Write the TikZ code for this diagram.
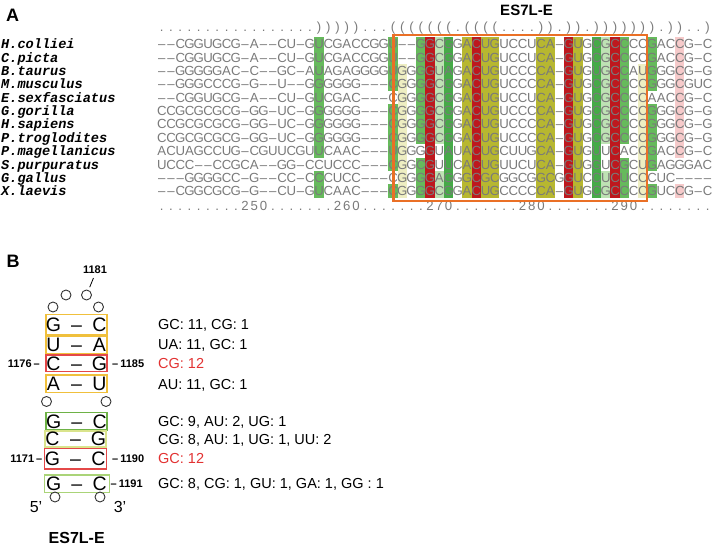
\documentclass[tikz,border=0pt]{standalone}
\usepackage{fontspec}
\setmainfont{Liberation Sans}
\newfontfamily\courier{Liberation Mono}
\newlength\cw \setlength\cw{9.25pt}
\makeatletter
\def\seqstop{\seqstop}
\def\seqline#1{\seq@loop#1\seqstop}
\def\seq@loop#1{\ifx\seqstop#1\else\ifx-#1\makebox[\cw][c]{–}\else\makebox[\cw][c]{#1}\fi\expandafter\seq@loop\fi}
\makeatother
\newcommand\bpair[2]{\makebox[61pt]{\makebox[0pt]{#1}\hspace{23pt}\makebox[0pt]{–}\hspace{23pt}\makebox[0pt]{#2}}}
\definecolor{seqgray}{RGB}{122,122,122}
\definecolor{hred}{RGB}{190,24,30}
\definecolor{holive}{RGB}{183,183,48}
\definecolor{hgreen}{RGB}{70,170,72}
\definecolor{hgreenm}{RGB}{102,186,92}
\definecolor{hpalegreen}{RGB}{190,226,180}
\definecolor{hpaleyellow}{RGB}{238,238,194}
\definecolor{hpink}{RGB}{246,202,202}
\definecolor{boxorange}{RGB}{234,112,38}
\definecolor{bochre}{RGB}{240,192,60}
\definecolor{bred}{RGB}{228,72,72}
\definecolor{bgreen}{RGB}{110,178,70}
\definecolor{bpale}{RGB}{218,228,140}
\definecolor{blightgreen}{RGB}{170,212,120}
\definecolor{numred}{RGB}{226,50,50}
\tikzset{
  seq/.style={anchor=base west, inner sep=0, text=seqgray, font=\fontsize{13.2}{13.2}\selectfont},
  species/.style={anchor=base west, inner sep=0, font=\courier\bfseries\itshape\fontsize{13.6}{13.6}\selectfont},
  panellabel/.style={anchor=base west, inner sep=0, font=\bfseries\fontsize{18}{18}\selectfont},
  titlelab/.style={anchor=base, inner sep=0, font=\bfseries\fontsize{15}{15}\selectfont},
  pairbox/.style={draw, line width=1.5pt, minimum width=61pt, inner sep=0, font=\fontsize{19.5}{19.5}\selectfont},
  circ/.style={circle, draw=black!80, line width=0.9pt, minimum size=10pt, inner sep=0},
  numlab/.style={inner sep=0, font=\bfseries\fontsize{11}{11}\selectfont},
  stat/.style={anchor=base west, inner sep=0, font=\fontsize{14.5}{14.5}\selectfont},
  endlab/.style={anchor=base, inner sep=0, font=\fontsize{16}{16}\selectfont},
}
\begin{document}
\begin{tikzpicture}[x=1pt,y=-1pt]
\useasboundingbox (0,0) rectangle (712,545);
% ---------- Panel A: highlights ----------
\foreach \c/\clr/\rows in {
  18/hgreenm/{1,2,3,4,5,6,7,8,9,11,12},
  26/hgreenm/{1,2,3,4,6,7,8,9,10,12},
  54/hgreenm/{1,2,3,4,6,7,8,9,10,12},
  27/hpaleyellow/{3,4,5,6,7,8,9,10,11,12},
  53/hpaleyellow/{3,4,5,6,7,8,9,10,11,12},
  29/hgreenm/{1,2,3,4,5,6,7,8,10,11,12},
  51/hgreenm/{1,2,3,4,5,6,7,8,10,11,12},
  30/hred/{1,2,3,4,5,6,7,8,9,10,11,12},
  50/hred/{1,2,3,4,5,6,7,8,9,10,11,12},
  35/hred/{1,2,3,4,5,6,7,8,9,10,11,12},
  45/hred/{1,2,3,4,5,6,7,8,9,10,11,12},
  31/hpalegreen/{1,2,3,4,5,6,7,8,11,12},
  49/hpalegreen/{1,2,3,4,5,6,7,8,11,12},
  32/hgreen/{1,2,3,4,5,6,7,8,9,10,11,12},
  48/hgreen/{1,2,3,4,5,6,7,8,9,10,11,12},
  34/holive/{1,2,3,4,5,6,7,8,9,10,11,12},
  46/holive/{1,2,3,4,5,6,7,8,9,10,11,12},
  36/holive/{1,2,3,4,5,6,7,8,9,10,11,12},
  43/holive/{1,2,3,4,5,6,7,8,9,10,11,12},
  37/holive/{1,2,3,4,5,6,7,8,9,10,11,12},
  42/holive/{1,2,3,4,5,6,7,8,9,10,11,12},
  57/hpink/{1,2,3,4,5,6,7,8,9,12}}{
  \foreach \r in \rows {
    \fill[fill=\clr] ({157+(\c-1)*9.25},{44+(\r-1)*13.38-6.69}) rectangle ({157+\c*9.25},{44+(\r-1)*13.38+6.69});
  }
}
% ---------- Panel A: text ----------
\node[panellabel] (labA) at (6,21.5) {A};
\node[titlelab] (titleA) at (526.5,15.5) {ES7L-E};
\node[seq] (struct) at (157,31.5) {\seqline{.................)))))...(((((((.((((....)).)).))))))).))..)}};
\foreach \i/\name/\s in {
  1/H.colliei/--CGGUGCG-A--CU-GUCGACCGGU--GGCGGACUGUCCUCA-GUGCGCCCCGACCG-C,
  2/C.picta/--CGGUGCG-A--CU-GUCGACCGGU--GGCGGACUGUCCUCA-GUGCGCCCCGACCG-C,
  3/B.taurus/--GGGGGAC-C--GC-AUAGAGGGGUGGGGUAGACUGUCCCCA-GUGUGCCAUGGGCG-G,
  4/M.musculus/--GGGCCCG-G--U--GGGGGG---CGGGGCGGACUGUCCCCA-GUGCGCCCCGGGCGUC,
  5/E.sexfasciatus/--CGGUGCG-A--CU-GUCGAC---CGGGGCGGACUGUCCUCA-GUGCGCCCCAACCG-C,
  6/G.gorilla/CCGCGCGCG-GG-UC-GGGGGG---CGGGGCGGACUGUCCCCA-GUGCGCCCCGGGCG-G,
  7/H.sapiens/CCGCGCGCG-GG-UC-GGGGGG---CGGGGCGGACUGUCCCCA-GUGCGCCCCGGGCG-G,
  8/P.troglodites/CCGCGCGCG-GG-UC-GGGGGG---CGGGGCGGACUGUCCCCA-GUGCGCCCCGGGCG-G,
  9/P.magellanicus/ACUAGCCUG-CGUUCGUUCAAC---UGGGGUAUACUGCUUGCA-GUGUUCACCGACCG-C,
  10/S.purpuratus/UCCC--CCGCA--GG-CCUCCC---CGGCGUUCACUGUUCUCA-GUGGUCGCUGAGGGAC,
  11/G.gallus/---GGGGCC-G--CC-CCCUCC---CGGGGAGGGCGCGGCGGCGGUCCUCUCCCUC----,
  12/X.laevis/--CGGCGCG-G--CU-GUCAAC---CGGGGCGGACUGCCCCCA-GUGCGCCCCGUCCG-C}{
  \node[species] (sp\i) at (1,{48.7+(\i-1)*13.38}) {\name};
  \node[seq] (s\i) at (157,{48.7+(\i-1)*13.38}) {\expandafter\seqline\expandafter{\s}};
}
\node[seq] (ruler) at (157,210.5) {\seqline{.........250.......260.......270.......280.......290........}};
\node[draw=boxorange, line width=2.3pt, minimum width=253.5pt, minimum height=166pt, inner sep=0] (esbox) at (520.25,117.7) {};
% ---------- Panel B ----------
\node[panellabel] (labB) at (6.5,268) {B};
\node[numlab, anchor=base] (n1181) at (95,274) {1181};
\node[circ] (c1) at (53,307) {};
\node[circ] (c2) at (66,295) {};
\node[circ] (c3) at (86.5,295) {};
\node[circ] (c4) at (98.5,307) {};
\draw[line width=0.8pt, shorten <=4pt, shorten >=3pt] (n1181.south) -- (c3);
\node[pairbox, draw=bochre, minimum height=20pt] (p1) at (76.5,324.3) {\bpair{G}{C}};
\node[pairbox, draw=bochre, minimum height=17.3pt] (p2) at (76.5,344.7) {\bpair{U}{A}};
\node[pairbox, draw=bred, minimum height=16.7pt] (p3) at (76.5,363.3) {\bpair{C}{G}};
\node[pairbox, draw=bochre, minimum height=17.7pt] (p4) at (76.5,383.8) {\bpair{A}{U}};
\node[circ] (c5) at (46.5,401.5) {};
\node[circ] (c6) at (106,401.5) {};
\node[pairbox, draw=bgreen, minimum height=17.3pt] (p5) at (76.7,421.3) {\bpair{G}{C}};
\node[pairbox, draw=bpale, minimum height=15.7pt] (p6) at (75.5,438.9) {\bpair{C}{G}};
\node[pairbox, draw=bred, minimum height=20.7pt, minimum width=62.4pt] (p7) at (75.5,458.7) {\bpair{G}{C}};
\node[pairbox, draw=blightgreen, minimum height=17.3pt, minimum width=65pt] (p8) at (76.8,483.7) {\bpair{G}{C}};
\node[circ] (c7) at (55,497) {};
\node[circ] (c8) at (100,497) {};
\node[endlab] (five) at (36,512.7) {5’};
\node[endlab] (three) at (120,512.7) {3’};
\node[titlelab, font=\bfseries\fontsize{16}{16}\selectfont] (titleB) at (76.7,543) {ES7L-E};
\node[numlab, anchor=east] (n1176) at (40,363.3) {1176\hspace{2pt}–};
\node[numlab, anchor=west] (n1185) at (112,363.3) {–\hspace{2pt}1185};
\node[numlab, anchor=east] (n1171) at (42.5,458.7) {1171\hspace{2pt}–};
\node[numlab, anchor=west] (n1190) at (112,458.7) {–\hspace{2pt}1190};
\node[numlab, anchor=west] (n1191) at (110.5,483.7) {–\hspace{2pt}1191};
\node[stat] (t1) at (158,329.5) {GC: 11, CG: 1};
\node[stat] (t2) at (158,349.9) {UA: 11, GC: 1};
\node[stat, text=numred] (t3) at (158,368.5) {CG: 12};
\node[stat] (t4) at (158,389) {AU: 11, GC: 1};
\node[stat] (t5) at (158,426.5) {GC: 9, AU: 2, UG: 1};
\node[stat] (t6) at (158,444.1) {CG: 8, AU: 1, UG: 1, UU: 2};
\node[stat, text=numred] (t7) at (158,463.9) {GC: 12};
\node[stat] (t8) at (158,488.9) {GC: 8, CG: 1, GU: 1, GA: 1, GG : 1};
\end{tikzpicture}
\end{document}
